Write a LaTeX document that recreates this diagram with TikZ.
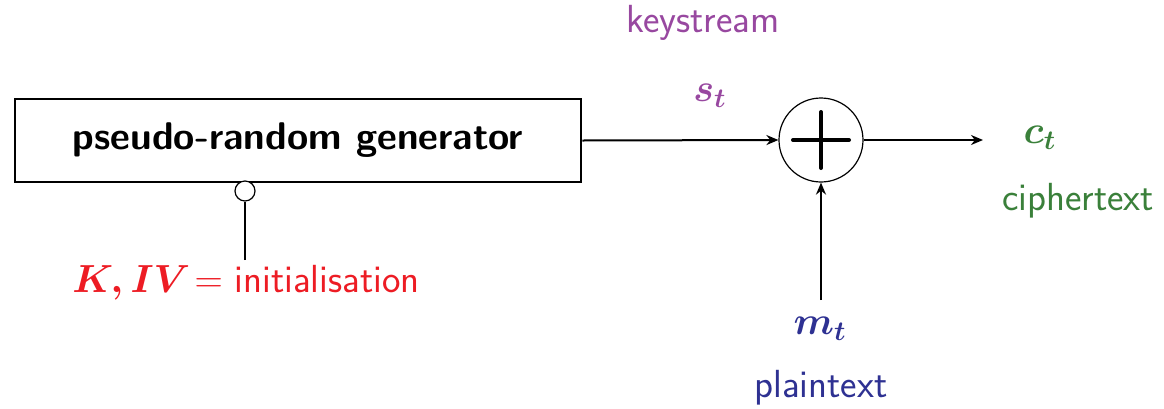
\documentclass[tikz,border=0pt]{standalone}
\usepackage{amsmath}
\usepackage{fix-cm}
\usepackage{fontspec}
\usetikzlibrary{arrows.meta}
\definecolor{ksviolet}{RGB}{152,72,160}
\definecolor{initred}{RGB}{237,28,36}
\definecolor{ptblue}{RGB}{46,49,146}
\definecolor{ctgreen}{RGB}{58,128,58}
\tikzset{
  lbl/.style={font=\sffamily\fontsize{19.6}{23}\selectfont, inner sep=0pt},
  sym/.style={font=\fontsize{19.6}{23}\selectfont, inner sep=0pt},
  flow/.style={line width=1pt, -{Stealth[length=6pt,width=5pt]}},
}
\begin{document}
\begin{tikzpicture}[x=0.5pt,y=-0.5pt]
  \useasboundingbox (0,0) rectangle (1164,408);

  % generator block
  \node[draw, line width=1.25pt, minimum width=283pt, minimum height=41.5pt,
        font=\sffamily\bfseries\fontsize{19.3}{22}\selectfont] (gen) at (298,140.5)
        {pseudo-random generator};

  % xor combiner
  \node[draw, circle, line width=0.6pt, minimum size=42pt, inner sep=0pt] (xor) at (821,140) {};
  \draw[line width=2pt, line cap=round] ([xshift=-14pt]xor.center) -- ([xshift=14pt]xor.center);
  \draw[line width=2pt, line cap=round] ([yshift=14pt]xor.center) -- ([yshift=-14pt]xor.center);

  % key / IV input port
  \node[draw, circle, line width=0.6pt, minimum size=10pt, inner sep=0pt, fill=white] (port) at (245,191) {};
  \coordinate (inittop) at (245,260);
  \draw[line width=1.2pt] (inittop) -- (port.south);
  \node[sym, text=initred] (init) at (246,283)
       {$\boldsymbol{K,IV}\!=$ \sffamily initialisation};

  % keystream
  \draw[flow] (gen.east) -- (xor.west);
  \node[sym, text=ksviolet] (st) at (710,96) {$\boldsymbol{s_t}$};
  \node[lbl, text=ksviolet] (ks) at (703,23) {keystream};

  % ciphertext output
  \coordinate (out) at (983,140);
  \draw[flow] (xor.east) -- (out);
  \node[sym, text=ctgreen] (ct) at (1040,138) {$\boldsymbol{c_t}$};
  \node[lbl, text=ctgreen] (cipher) at (1078,201) {ciphertext};

  % plaintext input
  \coordinate (mtop) at (821,300);
  \draw[flow] (mtop) -- (xor.south);
  \node[sym, text=ptblue] (mt) at (820,329) {$\boldsymbol{m_t}$};
  \node[lbl, text=ptblue] (plain) at (821,388) {plaintext};
\end{tikzpicture}
\end{document}
